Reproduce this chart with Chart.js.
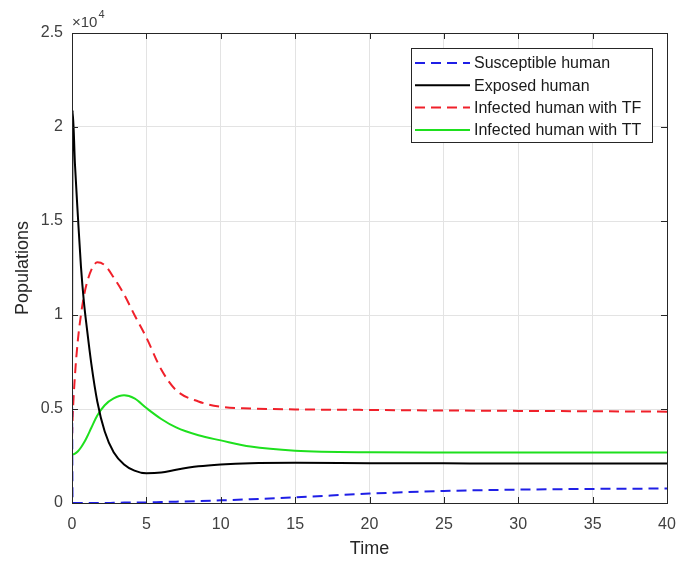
<!DOCTYPE html>
<html>
<head>
<meta charset="utf-8">
<script src="https://cdn.jsdelivr.net/npm/chart.js@4.4.0/dist/chart.umd.min.js"></script>
<style>
  html, body { margin: 0; padding: 0; background: #fff; }
</style>
</head>
<body>
<canvas id="myChart" width="682" height="565"></canvas>
<script>
// values are in units of 10^4
const time = [0, 0.04, 0.2, 0.4, 0.6, 0.8, 1.0, 1.3, 1.7, 2.2, 2.8, 3.5, 4.2, 5, 6, 7, 8.5, 10, 12, 15, 20, 25, 30, 35, 40];
const susceptible = [0.68, 0, 0, 0, 0, 0, 0, 0, 0, 0, 0.001, 0.002, 0.002, 0.003, 0.005, 0.007, 0.01, 0.014, 0.02, 0.03, 0.05, 0.064, 0.071, 0.075, 0.077];
const exposed = [0.70, 2.09, 1.80, 1.52, 1.26, 1.07, 0.93, 0.74, 0.54, 0.38, 0.27, 0.205, 0.172, 0.158, 0.162, 0.177, 0.195, 0.205, 0.212, 0.214, 0.212, 0.211, 0.21, 0.21, 0.21];
const infectedTF = [0.35, 0.45, 0.68, 0.87, 1.0, 1.10, 1.17, 1.24, 1.28, 1.265, 1.2, 1.11, 1.0, 0.88, 0.71, 0.60, 0.54, 0.512, 0.503, 0.498, 0.495, 0.492, 0.49, 0.488, 0.486];
const infectedTT = [0.26, 0.258, 0.262, 0.275, 0.295, 0.32, 0.35, 0.40, 0.465, 0.52, 0.556, 0.573, 0.556, 0.505, 0.447, 0.402, 0.36, 0.333, 0.3, 0.278, 0.27, 0.269, 0.268, 0.268, 0.268];

const seriesLabels = ["Susceptible human", "Exposed human", "Infected human with TF", "Infected human with TT"];
const xTicks = [0, 5, 10, 15, 20, 25, 30, 35, 40];
const yTicks = [0, 0.5, 1, 1.5, 2, 2.5];
const yTickLabels = ["0", "0.5", "1", "1.5", "2", "2.5"];

const FONT = "'Liberation Sans', Arial, sans-serif";
const TEXT = "#404040";

function pts(ys) {
  return time.map((t, i) => ({ x: t, y: ys[i] }));
}

const frame = {
  id: "frame",
  afterDatasetsDraw(chart) {
    const { ctx, chartArea: a, scales } = chart;
    ctx.save();
    ctx.strokeStyle = "#262626";
    ctx.lineWidth = 1;
    ctx.strokeRect(a.left + 0.5, a.top + 0.5, a.right - a.left, a.bottom - a.top);
    ctx.beginPath();
    xTicks.forEach(v => {
      const x = Math.round(scales.x.getPixelForValue(v)) + 0.5;
      ctx.moveTo(x, a.bottom); ctx.lineTo(x, a.bottom - 6);
      ctx.moveTo(x, a.top); ctx.lineTo(x, a.top + 6);
    });
    yTicks.forEach(v => {
      const y = Math.round(scales.y.getPixelForValue(v)) + 0.5;
      ctx.moveTo(a.left, y); ctx.lineTo(a.left + 6, y);
      ctx.moveTo(a.right, y); ctx.lineTo(a.right - 6, y);
    });
    ctx.stroke();

    // exponent label
    ctx.fillStyle = TEXT;
    ctx.textBaseline = "alphabetic";
    ctx.textAlign = "left";
    ctx.font = "15px " + FONT;
    ctx.fillText("\u00d710", a.left, a.top - 6);
    const w = ctx.measureText("\u00d710").width;
    ctx.font = "11px " + FONT;
    ctx.fillText("4", a.left + w + 1, a.top - 15);
    ctx.restore();
  }
};

const boxLegend = {
  id: "boxLegend",
  afterDraw(chart) {
    const { ctx } = chart;
    const bx = 411, by = 48, bw = 241, bh = 94;
    ctx.save();
    ctx.fillStyle = "#fff";
    ctx.fillRect(bx, by, bw, bh);
    ctx.strokeStyle = "#262626";
    ctx.lineWidth = 1;
    ctx.strokeRect(bx + 0.5, by + 0.5, bw, bh);
    ctx.font = "16px " + FONT;
    ctx.textBaseline = "middle";
    ctx.textAlign = "left";
    chart.data.datasets.forEach((ds, i) => {
      const y = by + 15 + i * 22.3;
      ctx.beginPath();
      ctx.strokeStyle = ds.borderColor;
      ctx.lineWidth = 2;
      ctx.setLineDash(ds.borderDash || []);
      ctx.moveTo(415, y);
      ctx.lineTo(470, y);
      ctx.stroke();
      ctx.setLineDash([]);
      ctx.fillStyle = "#1a1a1a";
      ctx.fillText(ds.label, 474, y + 1);
    });
    ctx.restore();
  }
};

const ctx = document.getElementById("myChart").getContext("2d");
const myChart = new Chart(ctx, {
  type: "line",
  data: {
    datasets: [
      {
        label: seriesLabels[0],
        data: pts(susceptible),
        borderColor: "#1f1fe6",
        borderDash: [10, 6],
      },
      {
        label: seriesLabels[1],
        data: pts(exposed),
        borderColor: "#000000",
      },
      {
        label: seriesLabels[2],
        data: pts(infectedTF),
        borderColor: "#f0202a",
        borderDash: [10, 6],
      },
      {
        label: seriesLabels[3],
        data: pts(infectedTT),
        borderColor: "#1ee01e",
      },
    ],
  },
  options: {
    responsive: false,
    animation: false,
    devicePixelRatio: 1,
    layout: { padding: { left: 0, top: 33, right: 15, bottom: 0 } },
    elements: {
      point: { radius: 0 },
      line: { borderWidth: 2, cubicInterpolationMode: "monotone", fill: false },
    },
    plugins: {
      legend: { display: false },
      tooltip: { enabled: false },
    },
    scales: {
      x: {
        type: "linear",
        min: 0,
        max: 40,
        afterFit(scale) { scale.height = 62; scale.paddingLeft = 0; scale.paddingRight = 0; },
        afterBuildTicks(scale) { scale.ticks = xTicks.map(v => ({ value: v })); },
        grid: { color: "#e3e3e3", drawTicks: false },
        border: { display: false },
        ticks: { padding: 12, color: TEXT, font: { family: FONT, size: 16 } },
        title: {
          display: true,
          text: "Time",
          color: "#262626",
          padding: { top: 0, bottom: 5 },
          font: { family: FONT, size: 18 },
        },
      },
      y: {
        type: "linear",
        min: 0,
        max: 2.5,
        afterFit(scale) { scale.width = 72; scale.paddingTop = 0; scale.paddingBottom = 0; },
        afterBuildTicks(scale) { scale.ticks = yTicks.map(v => ({ value: v })); },
        grid: { color: "#e3e3e3", drawTicks: false },
        border: { display: false },
        ticks: {
          padding: 9,
          color: TEXT,
          font: { family: FONT, size: 16 },
          callback: (v, i) => yTickLabels[i],
        },
        title: {
          display: true,
          text: "Populations",
          color: "#262626",
          padding: { top: 12, bottom: 0 },
          font: { family: FONT, size: 18 },
        },
      },
    },
  },
  plugins: [frame, boxLegend],
});
</script>
</body>
</html>
